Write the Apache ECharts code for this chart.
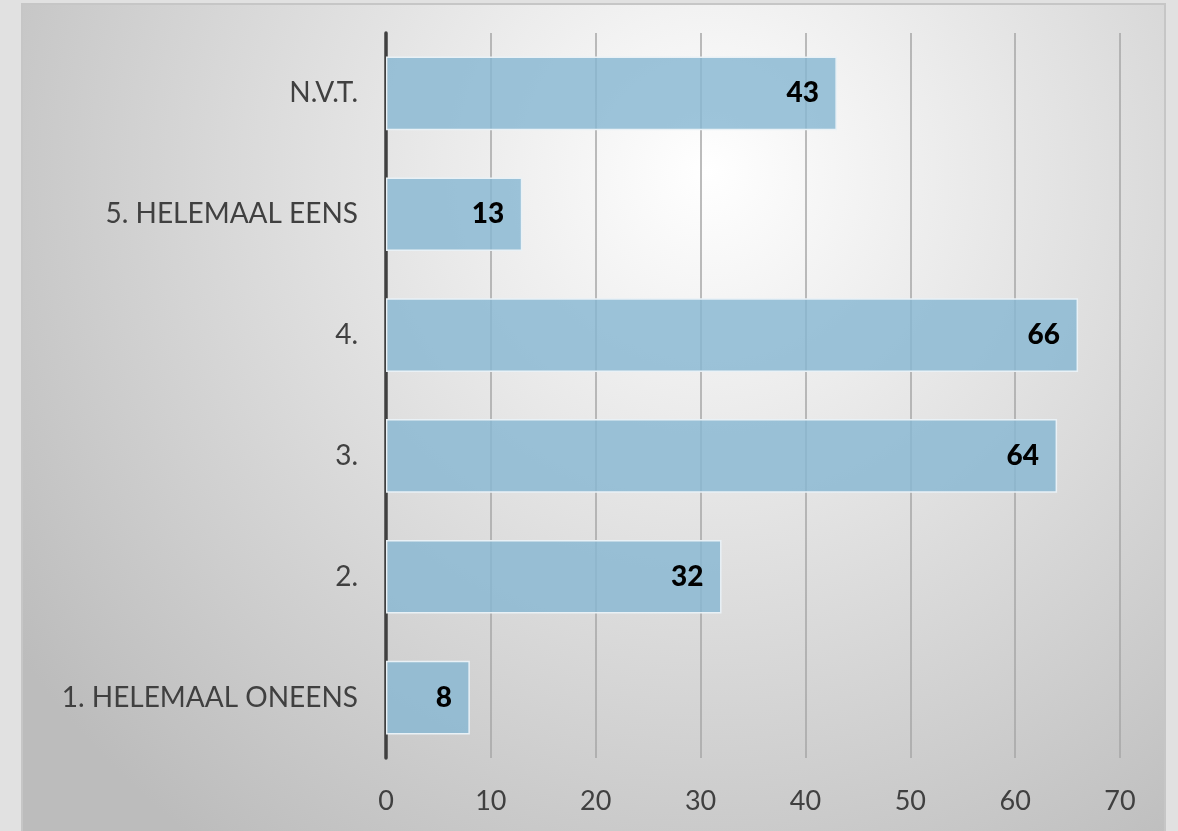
<!DOCTYPE html>
<html><head><meta charset="utf-8">
<script src="https://cdn.jsdelivr.net/npm/echarts@6/dist/echarts.min.js"></script>
<style>html,body{margin:0;padding:0;background:#e1e1e1;}#c{width:1178px;height:831px;}</style>
</head><body><div id="c"></div>
<script>
const categories = ['1. HELEMAAL ONEENS', '2.', '3.', '4.', '5. HELEMAAL EENS', 'N.V.T.'];
const values = [8, 32, 64, 66, 13, 43];
const xTicks = [0, 10, 20, 30, 40, 50, 60, 70];

const chart = echarts.init(document.getElementById('c'));
const font = 'Lato, "Open Sans", sans-serif';
chart.setOption({
  backgroundColor: '#e1e1e1',
  animation: false,
  graphic: [{
    type: 'rect', z: -10, silent: true,
    shape: { x: 22, y: 4, width: 1143, height: 840 },
    style: {
      fill: new echarts.graphic.RadialGradient(0.6, 0.2, 1.0, [
        { offset: 0, color: '#ffffff' },
        { offset: 1, color: '#bcbcbc' }
      ]),
      stroke: '#c6c6c6', lineWidth: 2
    }
  }],
  grid: { left: 386, right: 58, top: 33, bottom: 73, containLabel: false },
  xAxis: {
    type: 'value', min: 0, max: 70, interval: 10,
    axisLine: { show: false },
    axisTick: { show: false },
    splitLine: { show: true, lineStyle: { color: '#a6a6a6', width: 1.5 } },
    axisLabel: {
      margin: 30, color: '#404040', fontFamily: font, fontSize: 27,
      formatter: v => xTicks.includes(v) ? String(v) : ''
    }
  },
  yAxis: {
    type: 'category', data: categories,
    axisLine: { show: true, lineStyle: { color: '#404040', width: 3.5 } },
    axisTick: { show: false },
    axisLabel: { margin: 28, color: '#404040', fontFamily: font, fontSize: 28 }
  },
  series: [{
    type: 'bar', data: values, barWidth: '61%',
    itemStyle: { color: 'rgba(135,183,210,0.82)', borderColor: '#e9f1f6', borderWidth: 1.5 },
    label: {
      show: true, position: 'insideRight', distance: 18,
      color: '#000', fontFamily: font, fontWeight: 900, fontSize: 28
    }
  }]
});
</script></body></html>
